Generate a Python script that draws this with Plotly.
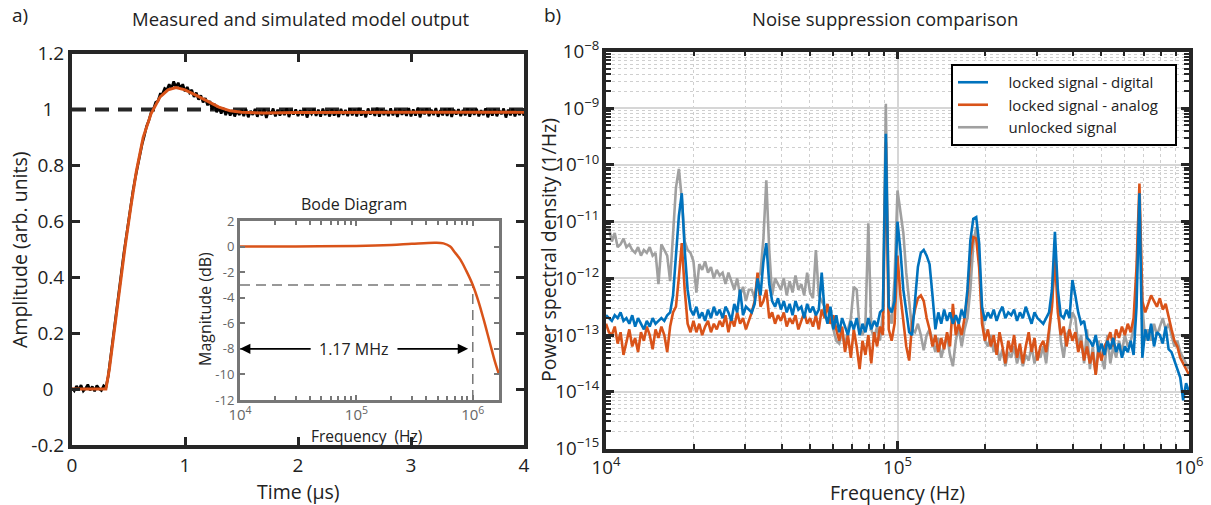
import numpy as np
import plotly.graph_objects as go

# ---------------- panel a: step response ----------------
time_us = np.linspace(0, 4, 201)
measured_amp = [
    0.004, -0.006, 0.011, -0.003, 0.014, -0.007, 0.002, 0.016, -0.004, 0.009,
    -0.008, 0.013, 0.001, -0.005, 0.012, 0.006, 0.045, 0.11, 0.18, 0.245,
    0.305, 0.37, 0.425, 0.49, 0.545, 0.605, 0.655, 0.71, 0.755, 0.80,
    0.835, 0.875, 0.905, 0.94, 0.96, 0.99, 1.0, 1.025, 1.03, 1.055,
    1.055, 1.075, 1.07, 1.09, 1.075, 1.1, 1.08, 1.095, 1.075, 1.09,
    1.065, 1.08, 1.06, 1.07, 1.045, 1.06, 1.035, 1.05, 1.025, 1.04,
    1.015, 1.03, 1.0, 1.02, 0.99, 1.01, 0.985, 1.005, 0.98, 1.0,
    0.978, 0.997, 0.975, 0.996, 0.98,
    0.998, 0.976, 1.0, 0.972, 0.995, 0.981, 1.002, 0.974, 0.997, 0.979, 1.001, 0.97, 0.994,
    0.983, 1.003, 0.975, 0.999, 0.978, 0.996, 0.98, 1.004, 0.973, 0.998, 0.982, 1.0,
    0.976, 0.997, 0.979, 1.002, 0.971, 0.995, 0.984, 1.001, 0.977, 0.999, 0.974, 1.003, 0.98,
    0.996, 0.975, 1.0, 0.978, 0.997, 0.973, 1.002, 0.981, 0.998, 0.976, 1.004, 0.979,
    0.999, 0.975, 1.005, 0.978, 0.996, 0.972, 1.003, 0.982, 0.998, 0.977, 1.006, 0.974, 1.0,
    0.98, 0.997, 0.976, 1.004, 0.979, 0.999, 0.973, 1.002, 0.981, 0.996, 0.977, 1.005,
    0.975, 1.0, 0.978, 1.006, 0.972, 0.998, 0.983, 1.003, 0.976, 0.999, 0.98, 1.005, 0.974,
    0.997, 0.979, 1.002, 0.977, 1.004, 0.973, 0.999, 0.982, 1.001, 0.976, 0.998, 0.979,
    1.003, 0.974, 0.999, 0.981, 1.002, 0.975, 0.997, 0.98, 1.004, 0.972, 0.998, 0.978, 1.001,
    0.976, 0.996, 0.983, 1.003, 0.971, 0.999, 0.979, 1.002, 0.975, 0.997, 0.98, 1.001, 0.977,
]
sim_time_us = [0, 0.30, 0.33, 0.37, 0.42, 0.47, 0.52, 0.57, 0.63, 0.70, 0.78, 0.85,
               0.92, 1.0, 1.1, 1.2, 1.3, 1.4, 1.5, 1.7, 2.0, 3.0, 4.0]
sim_amp = [0, 0, 0.07, 0.2, 0.36, 0.51, 0.65, 0.78, 0.9, 0.985, 1.045, 1.07,
           1.078, 1.07, 1.05, 1.028, 1.008, 0.995, 0.99, 0.987, 0.989, 0.99, 0.99]
reference_level = 1.0
amp_ticks = [-0.2, 0, 0.2, 0.4, 0.6, 0.8, 1, 1.2]
amp_ticktext = ["-0.2", "0\u2007", "0.2", "0.4", "0.6", "0.8", "1\u2007", "1.2"]
time_ticks = [0, 1, 2, 3, 4]

# ---------------- inset: Bode diagram ----------------
bode_freq = [1e4, 3e4, 1e5, 2e5, 3e5, 4.75e5, 5.6e5, 6.4e5, 7.0e5, 7.8e5, 8.8e5,
             1.0e6, 1.12e6, 1.24e6, 1.4e6, 1.55e6, 1.68e6]
bode_db = [0, 0.01, 0.05, 0.13, 0.22, 0.3, 0.25, 0.0, -0.45, -1.0, -1.9,
           -3.0, -4.3, -5.7, -7.5, -9.0, -10.0]
cutoff_db = -3
cutoff_freq = 1e6
bode_ymin = -12
arrow_db = -8
arrow_start_log = 4.0
arrow_end_log = 5.96
arrow_label = "1.17 MHz"
mag_ticks = [-12, -10, -8, -6, -4, -2, 0, 2]
mag_ticktext = ["-12", "-10", "-8", "-6", "-4", "-2", "0", "2"]

# ---------------- panel b: noise PSD ----------------
freq_hz = np.logspace(4, 6, 201)
unlocked_log10 = [
    -11.15, -11.1, -11.35, -11.2, -11.45, -11.4, -11.3, -11.45, -11.4, -11.5,
    -11.55, -11.45, -11.6, -11.5, -11.55, -11.45, -11.6, -11.55, -12.1, -11.4,
    -11.5, -11.6, -12.05, -11.2, -10.4, -10.07, -10.6, -11.35, -11.5, -11.55,
    -11.7, -12.25, -11.75, -11.85, -11.7, -11.9, -11.8, -12.0, -11.85, -11.95,
    -11.9, -12.1, -11.9, -12.05, -12.2, -12.0, -12.3, -12.15, -12.4, -12.2,
    -12.2, -12.35, -12.0, -11.9, -11.3, -10.27, -11.5, -12.3, -12.0, -12.1,
    -12.2, -12.0, -12.3, -12.05, -12.25, -11.95, -12.2, -12.1, -12.3, -11.9,
    -12.25, -12.35, -11.5, -12.3, -12.4, -12.5, -12.5, -12.7, -12.85, -13.1,
    -13.15, -12.95, -13.2, -12.9, -12.7, -12.15, -12.2, -12.9, -13.0, -12.8,
    -11.03, -12.9, -13.05, -12.85, -13.1, -12.6, -8.92, -12.6, -12.8, -12.0,
    -10.45, -10.8, -11.2, -11.9, -12.4, -12.9, -12.95, -12.8, -13.0, -13.27,
    -13.0, -12.9, -13.1, -13.3, -13.05, -13.4, -13.2, -13.0, -13.35, -13.55,
    -13.1, -12.85, -13.2, -12.9, -12.7, -12.2, -11.4, -11.1, -11.6, -12.6,
    -13.1, -13.2, -13.0, -13.3, -13.15, -13.45, -13.25, -13.55, -13.3, -13.4,
    -13.2, -13.5, -13.3, -13.55, -13.35, -13.45, -13.2, -13.5, -13.3, -13.4,
    -13.2, -13.5, -13.0, -12.4, -11.5, -12.4, -13.1, -13.4, -13.0, -12.9,
    -12.6, -12.7, -13.2, -13.0, -13.5, -12.9, -13.6, -13.2, -13.7, -13.1,
    -13.4, -13.6, -13.0, -13.5, -13.2, -13.4, -13.1, -13.3, -13.0, -13.2,
    -13.1, -12.9, -12.0, -10.6, -12.5, -13.1, -12.9, -13.1, -12.8, -13.0,
    -12.85, -12.7, -12.9, -12.8, -13.0, -13.2, -13.1, -13.3, -13.4, -13.5,
    -13.6,
]
analog_log10 = [
    -12.8, -12.95, -13.0, -12.85, -13.15, -12.95, -13.35, -13.1, -12.9, -13.2,
    -13.05, -13.3, -12.95, -13.1, -12.85, -13.0, -13.25, -12.9, -13.05, -12.85,
    -13.0, -13.3, -12.85, -12.6, -12.5, -11.98, -11.38, -12.2, -12.8, -12.95,
    -12.75, -12.95, -12.8, -13.0, -12.85, -12.75, -12.95, -12.8, -12.9, -12.75,
    -12.85, -12.65, -12.95, -12.7, -12.85, -12.6, -12.8, -12.7, -12.9, -12.75,
    -12.6, -12.4, -11.9, -12.5, -12.4, -12.2, -12.7, -12.6, -12.8, -12.65,
    -12.75, -12.6, -12.85, -12.7, -12.8, -12.65, -12.9, -12.75, -12.6, -12.8,
    -12.7, -12.85, -12.65, -12.9, -12.55, -12.7, -12.45, -12.8, -12.65, -12.9,
    -13.1, -12.85, -13.3, -13.0, -13.4, -12.9, -13.2, -13.6, -13.1, -13.35,
    -13.0, -13.5, -12.95, -13.2, -12.85, -13.0, -9.6, -12.9, -13.1, -12.8,
    -11.6, -12.3, -12.7, -13.2, -13.45, -12.8, -12.55, -12.35, -12.3, -12.4,
    -12.7, -12.9, -13.2, -13.0, -13.3, -13.05, -13.25, -12.95, -13.2, -12.45,
    -13.0, -12.8, -13.0, -12.7, -12.3, -11.6, -11.27, -11.3, -11.8, -12.8,
    -13.1, -12.9, -13.2, -13.0, -13.35, -12.95, -13.2, -13.5, -13.1, -13.3,
    -13.0, -13.4, -13.15, -13.5, -13.2, -12.95, -13.3, -13.05, -13.45, -13.2,
    -13.1, -13.3, -12.9, -12.5, -11.6, -12.6, -13.0, -12.85, -13.2, -12.9,
    -13.1, -12.95, -13.3, -13.1, -13.45, -13.2, -13.5, -13.3, -13.7, -13.25,
    -13.45, -13.2, -13.1, -12.95, -13.2, -12.9, -13.05, -12.85, -13.0, -12.8,
    -12.95, -12.7, -11.8, -10.33, -12.4, -12.6, -12.45, -12.3, -12.4, -12.5,
    -12.35, -12.55, -12.45, -12.7, -12.9, -13.1, -13.2, -13.4, -13.5, -13.6,
    -13.7,
]
digital_log10 = [
    -12.65, -12.7, -12.75, -12.65, -12.7, -12.6, -12.75, -12.7, -12.8, -12.65,
    -12.85, -12.7, -12.8, -12.9, -12.75, -12.85, -12.7, -12.8, -12.75, -12.7,
    -12.75, -12.65, -12.6, -12.3, -11.6, -10.9, -10.5, -11.5, -12.2, -12.55,
    -12.65, -12.5, -12.7, -12.6, -12.75, -12.55, -12.7, -12.5, -12.65, -12.55,
    -12.7, -12.5, -12.6, -12.75, -12.45, -12.6, -12.2, -12.65, -12.5, -12.55,
    -12.6, -12.45, -12.0, -12.3, -11.7, -11.38, -12.1, -12.4, -12.5, -12.35,
    -12.55, -12.4, -12.6, -12.45, -12.65, -12.4, -12.55, -12.5, -12.7, -12.45,
    -12.6, -12.5, -12.65, -12.55, -11.9, -12.6, -12.8, -12.5, -12.9, -12.65,
    -12.95, -12.7, -12.85, -13.0, -12.75, -12.9, -12.7, -13.0, -12.8, -12.95,
    -12.7, -12.9, -12.75, -12.85, -12.6, -12.55, -9.45, -12.5, -12.6, -12.4,
    -11.0, -11.5, -12.2, -12.6, -12.95, -13.0, -12.33, -11.8, -11.55, -11.5,
    -11.6, -11.75, -12.3, -12.9, -12.6, -12.8, -12.55, -12.75, -12.6, -12.8,
    -12.65, -12.8, -12.55, -12.7, -12.2, -11.33, -10.95, -10.92, -11.38, -12.5,
    -12.75, -12.6, -12.7, -12.55, -12.75, -12.6, -12.5, -12.7, -12.6, -12.65,
    -12.55, -12.75, -12.6, -12.7, -12.5, -12.65, -12.8, -12.6, -12.7, -12.75,
    -12.8, -12.7, -12.6, -12.2, -11.18, -12.2, -12.65, -12.7, -12.55, -12.7,
    -12.03, -12.3, -12.6, -12.8, -12.75, -13.05, -13.1, -13.2, -13.0, -13.3,
    -13.15, -13.35, -13.1, -13.25, -13.05, -13.3, -13.15, -13.4, -13.2, -13.3,
    -13.1, -13.35, -12.5, -10.5, -13.4, -12.9, -13.1, -12.8, -13.2, -12.95,
    -13.0, -13.15, -12.85, -13.25, -13.3, -13.45, -13.6, -13.75, -14.15, -13.85,
    -14.0,
]
series_names = ["locked signal - digital", "locked signal - analog", "unlocked signal"]

BLUE = "#0072BD"
ORANGE = "#D95319"
GRAY = "#A0A0A0"
INK = "#262626"
FONT = "Open Sans"

fig = go.Figure()

# panel a
fig.add_trace(go.Scatter(x=[time_ticks[0], time_ticks[-1]], y=[reference_level] * 2,
                         mode="lines", line=dict(color=INK, width=4, dash="14px,9px"),
                         showlegend=False, xaxis="x", yaxis="y", hoverinfo="skip"))
fig.add_trace(go.Scatter(x=time_us, y=measured_amp, mode="lines",
                         line=dict(color="black", width=2.6), showlegend=False,
                         xaxis="x", yaxis="y"))
fig.add_trace(go.Scatter(x=sim_time_us, y=sim_amp, mode="lines",
                         line=dict(color=ORANGE, width=3), showlegend=False,
                         xaxis="x", yaxis="y"))

# inset
fig.add_trace(go.Scatter(x=[bode_freq[0], bode_freq[-1]], y=[cutoff_db] * 2, mode="lines",
                         line=dict(color="#777777", width=1.5, dash="10px,6px"),
                         showlegend=False, xaxis="x2", yaxis="y2"))
fig.add_trace(go.Scatter(x=[cutoff_freq] * 2, y=[bode_ymin, cutoff_db], mode="lines",
                         line=dict(color="#777777", width=1.5, dash="10px,6px"),
                         showlegend=False, xaxis="x2", yaxis="y2"))
fig.add_trace(go.Scatter(x=bode_freq, y=bode_db, mode="lines", line_shape="spline",
                         line=dict(color=ORANGE, width=2.5), showlegend=False,
                         xaxis="x2", yaxis="y2"))

# panel b (draw gray, orange, blue; legend reversed)
PAD = "\u00a0" * 4
for vals, name, col in [(unlocked_log10, series_names[2], GRAY),
                        (analog_log10, series_names[1], ORANGE),
                        (digital_log10, series_names[0], BLUE)]:
    fig.add_trace(go.Scatter(x=freq_hz, y=10 ** np.array(vals), mode="lines",
                             name=PAD + name + "\u00a0\u00a0\u00a0",
                             line=dict(color=col, width=2.6),
                             xaxis="x3", yaxis="y3"))

W, H = 1211, 505
def px(x):
    return x / W
def py(y):
    return 1 - y / H

common_main = dict(ticks="inside", showline=True, mirror="allticks", showgrid=False,
                   zeroline=False, linecolor=INK, tickcolor=INK, automargin=False)
TICKF = dict(size=19, color="#222")

fig.update_layout(
    width=W, height=H, margin=dict(l=0, r=0, t=0, b=0, pad=0, autoexpand=False),
    paper_bgcolor="white", plot_bgcolor="white",
    font=dict(family=FONT, color="#222"),
    xaxis=dict(domain=[px(72), px(524)], range=[0, 4], anchor="y", tickvals=time_ticks,
               ticklen=8, tickwidth=3, linewidth=4, tickfont=TICKF, **common_main),
    yaxis=dict(domain=[py(445), py(53.5)], range=[-0.2, 1.2], anchor="x",
               tickvals=amp_ticks, ticktext=amp_ticktext,
               ticklen=8, tickwidth=3, linewidth=4, tickfont=TICKF, **common_main),
    xaxis2=dict(domain=[px(240), px(499)], type="log", range=[4, np.log10(bode_freq[-1])],
                anchor="y2", dtick=1, exponentformat="power", ticks="inside", ticklen=5,
                tickwidth=2, showline=True, mirror="allticks", linecolor="#777777",
                linewidth=3, tickcolor="#777777", showgrid=False, zeroline=False,
                automargin=False, tickfont=dict(size=12, color="#666666"),
                minor=dict(ticks="inside", ticklen=4, tickwidth=2, tickcolor="#777777")),
    yaxis2=dict(domain=[py(400), py(221)], range=[-12, 2], anchor="x2",
                tickvals=mag_ticks, ticktext=mag_ticktext, ticks="inside", ticklen=5,
                tickwidth=2, showline=True, mirror="allticks", linecolor="#777777",
                linewidth=3, tickcolor="#777777", showgrid=False, zeroline=False,
                automargin=False, tickfont=dict(size=13, color="#666666")),
    xaxis3=dict(domain=[px(606), px(1189)], type="log", range=[4, 6], anchor="y3",
                dtick=1, exponentformat="power", ticks="inside", ticklen=8, tickwidth=3,
                showline=True, mirror="allticks", linecolor=INK, linewidth=3.5,
                tickcolor=INK, showgrid=True, gridcolor="#d6d6d6", gridwidth=2,
                zeroline=False, automargin=False, tickfont=dict(size=15, color="#222"),
                minor=dict(ticks="inside", ticklen=5, tickwidth=2, tickcolor=INK,
                           showgrid=True, gridcolor="#cfcfcf", gridwidth=1, griddash="dot")),
    yaxis3=dict(domain=[py(448.5), py(51.5)], type="log", range=[-15, -8], anchor="x3",
                dtick=1, exponentformat="power", ticks="inside", ticklen=8, tickwidth=3,
                showline=True, mirror="allticks", linecolor=INK, linewidth=3.5,
                tickcolor=INK, showgrid=True, gridcolor="#d6d6d6", gridwidth=2,
                zeroline=False, automargin=False, tickfont=dict(size=15, color="#222"),
                minor=dict(ticks="inside", ticklen=5, tickwidth=2, tickcolor=INK,
                           showgrid=True, gridcolor="#cfcfcf", gridwidth=1, griddash="dot")),
    legend=dict(x=px(1177), y=py(64), xanchor="right", yanchor="top",
                bgcolor="white", bordercolor="black", borderwidth=2,
                traceorder="reversed", font=dict(size=15, color="#222")),
)

ann = [
    dict(text="a)", x=px(20), y=py(15), size=19),
    dict(text="b)", x=px(552), y=py(15), size=19),
    dict(text="Measured and simulated model output", x=px(300), y=py(18), size=18.5),
    dict(text="Noise suppression comparison", x=px(885), y=py(18), size=18.5),
    dict(text="Time (µs)", x=px(298), y=py(491), size=19.5),
    dict(text="Frequency (Hz)", x=px(897), y=py(492), size=19.5),
    dict(text="Bode Diagram", x=px(354), y=py(204), size=16),
    dict(text="Frequency  (Hz)", x=px(367), y=py(436), size=15.5),
]
annotations = []
for a in ann:
    annotations.append(dict(text=a["text"], x=a["x"], y=a["y"], xref="paper", yref="paper",
                            showarrow=False, xanchor="center", yanchor="middle",
                            font=dict(size=a["size"], family=FONT, color="#222")))
for text, x, y, size in [("Amplitude (arb. units)", px(19), py(250), 19.5),
                         ("Power spectral density (1/Hz)", px(548), py(250), 19.5),
                         ("Magnitude (dB)", px(205), py(309), 16)]:
    annotations.append(dict(text=text, x=x, y=y, xref="paper", yref="paper", textangle=-90,
                            showarrow=False, xanchor="center", yanchor="middle",
                            font=dict(size=size, family=FONT, color="#222")))
# inset arrow
mid_left = 4.62
mid_right = 5.34
annotations.append(dict(x=arrow_start_log, y=arrow_db, ax=mid_left, ay=arrow_db,
                        xref="x2", yref="y2", axref="x2", ayref="y2", text="",
                        showarrow=True, arrowhead=2, arrowsize=1.3, arrowwidth=1.6,
                        arrowcolor="black"))
annotations.append(dict(x=arrow_end_log, y=arrow_db, ax=mid_right, ay=arrow_db,
                        xref="x2", yref="y2", axref="x2", ayref="y2", text="",
                        showarrow=True, arrowhead=2, arrowsize=1.3, arrowwidth=1.6,
                        arrowcolor="black"))
annotations.append(dict(x=(mid_left + mid_right) / 2, y=arrow_db, xref="x2", yref="y2",
                        text=arrow_label, showarrow=False,
                        font=dict(size=16, family=FONT, color="#222")))
fig.update_layout(annotations=annotations)

fig.write_html("out.html")
